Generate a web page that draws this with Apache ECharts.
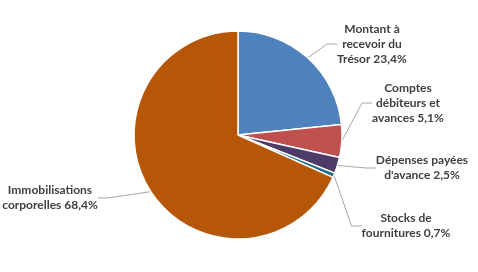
<!DOCTYPE html>
<html><head><meta charset="utf-8">
<script src="https://cdn.jsdelivr.net/npm/echarts@6/dist/echarts.min.js"></script>
<style>html,body{margin:0;padding:0;background:#fff}#c{width:478px;height:272px}</style>
</head><body><div id="c"></div>
<script>
const categories = ['Montant à\nrecevoir du\nTrésor', 'Comptes\ndébiteurs et\navances', "Dépenses payées\nd'avance", 'Stocks de\nfournitures', 'Immobilisations\ncorporelles'];
const values = [23.4, 5.1, 2.5, 0.7, 68.4];
const colors = ['#4F81BD', '#C0504D', '#4F3B68', '#1F6E85', '#B65708'];
const labelPos = [[372, 44], [408, 103], [422, 168], [406, 226], [50, 198]];

const chart = echarts.init(document.getElementById('c'), null, {renderer: 'canvas'});
chart.setOption({
  animation: false,
  series: [{
    type: 'pie',
    center: [238, 135],
    radius: 104,
    startAngle: 90,
    clockwise: true,
    data: categories.map((n, i) => ({name: n, value: values[i], itemStyle: {color: colors[i]}})),
    itemStyle: {borderColor: '#fff', borderWidth: 1.5},
    label: {
      show: true,
      formatter: p => p.name + ' ' + p.value.toFixed(1).replace('.', ',') + '%',
      fontFamily: 'Lato',
      fontWeight: 'bold',
      fontSize: 12,
      lineHeight: 15,
      color: '#404040',
      align: 'center'
    },
    labelLine: {show: true, lineStyle: {color: '#A6A6A6', width: 1}, length: 10, length2: 10},
    labelLayout: function (params) {
      const i = params.dataIndex;
      return {x: labelPos[i][0], y: labelPos[i][1], align: 'center', verticalAlign: 'middle'};
    }
  }]
});
</script></body></html>
